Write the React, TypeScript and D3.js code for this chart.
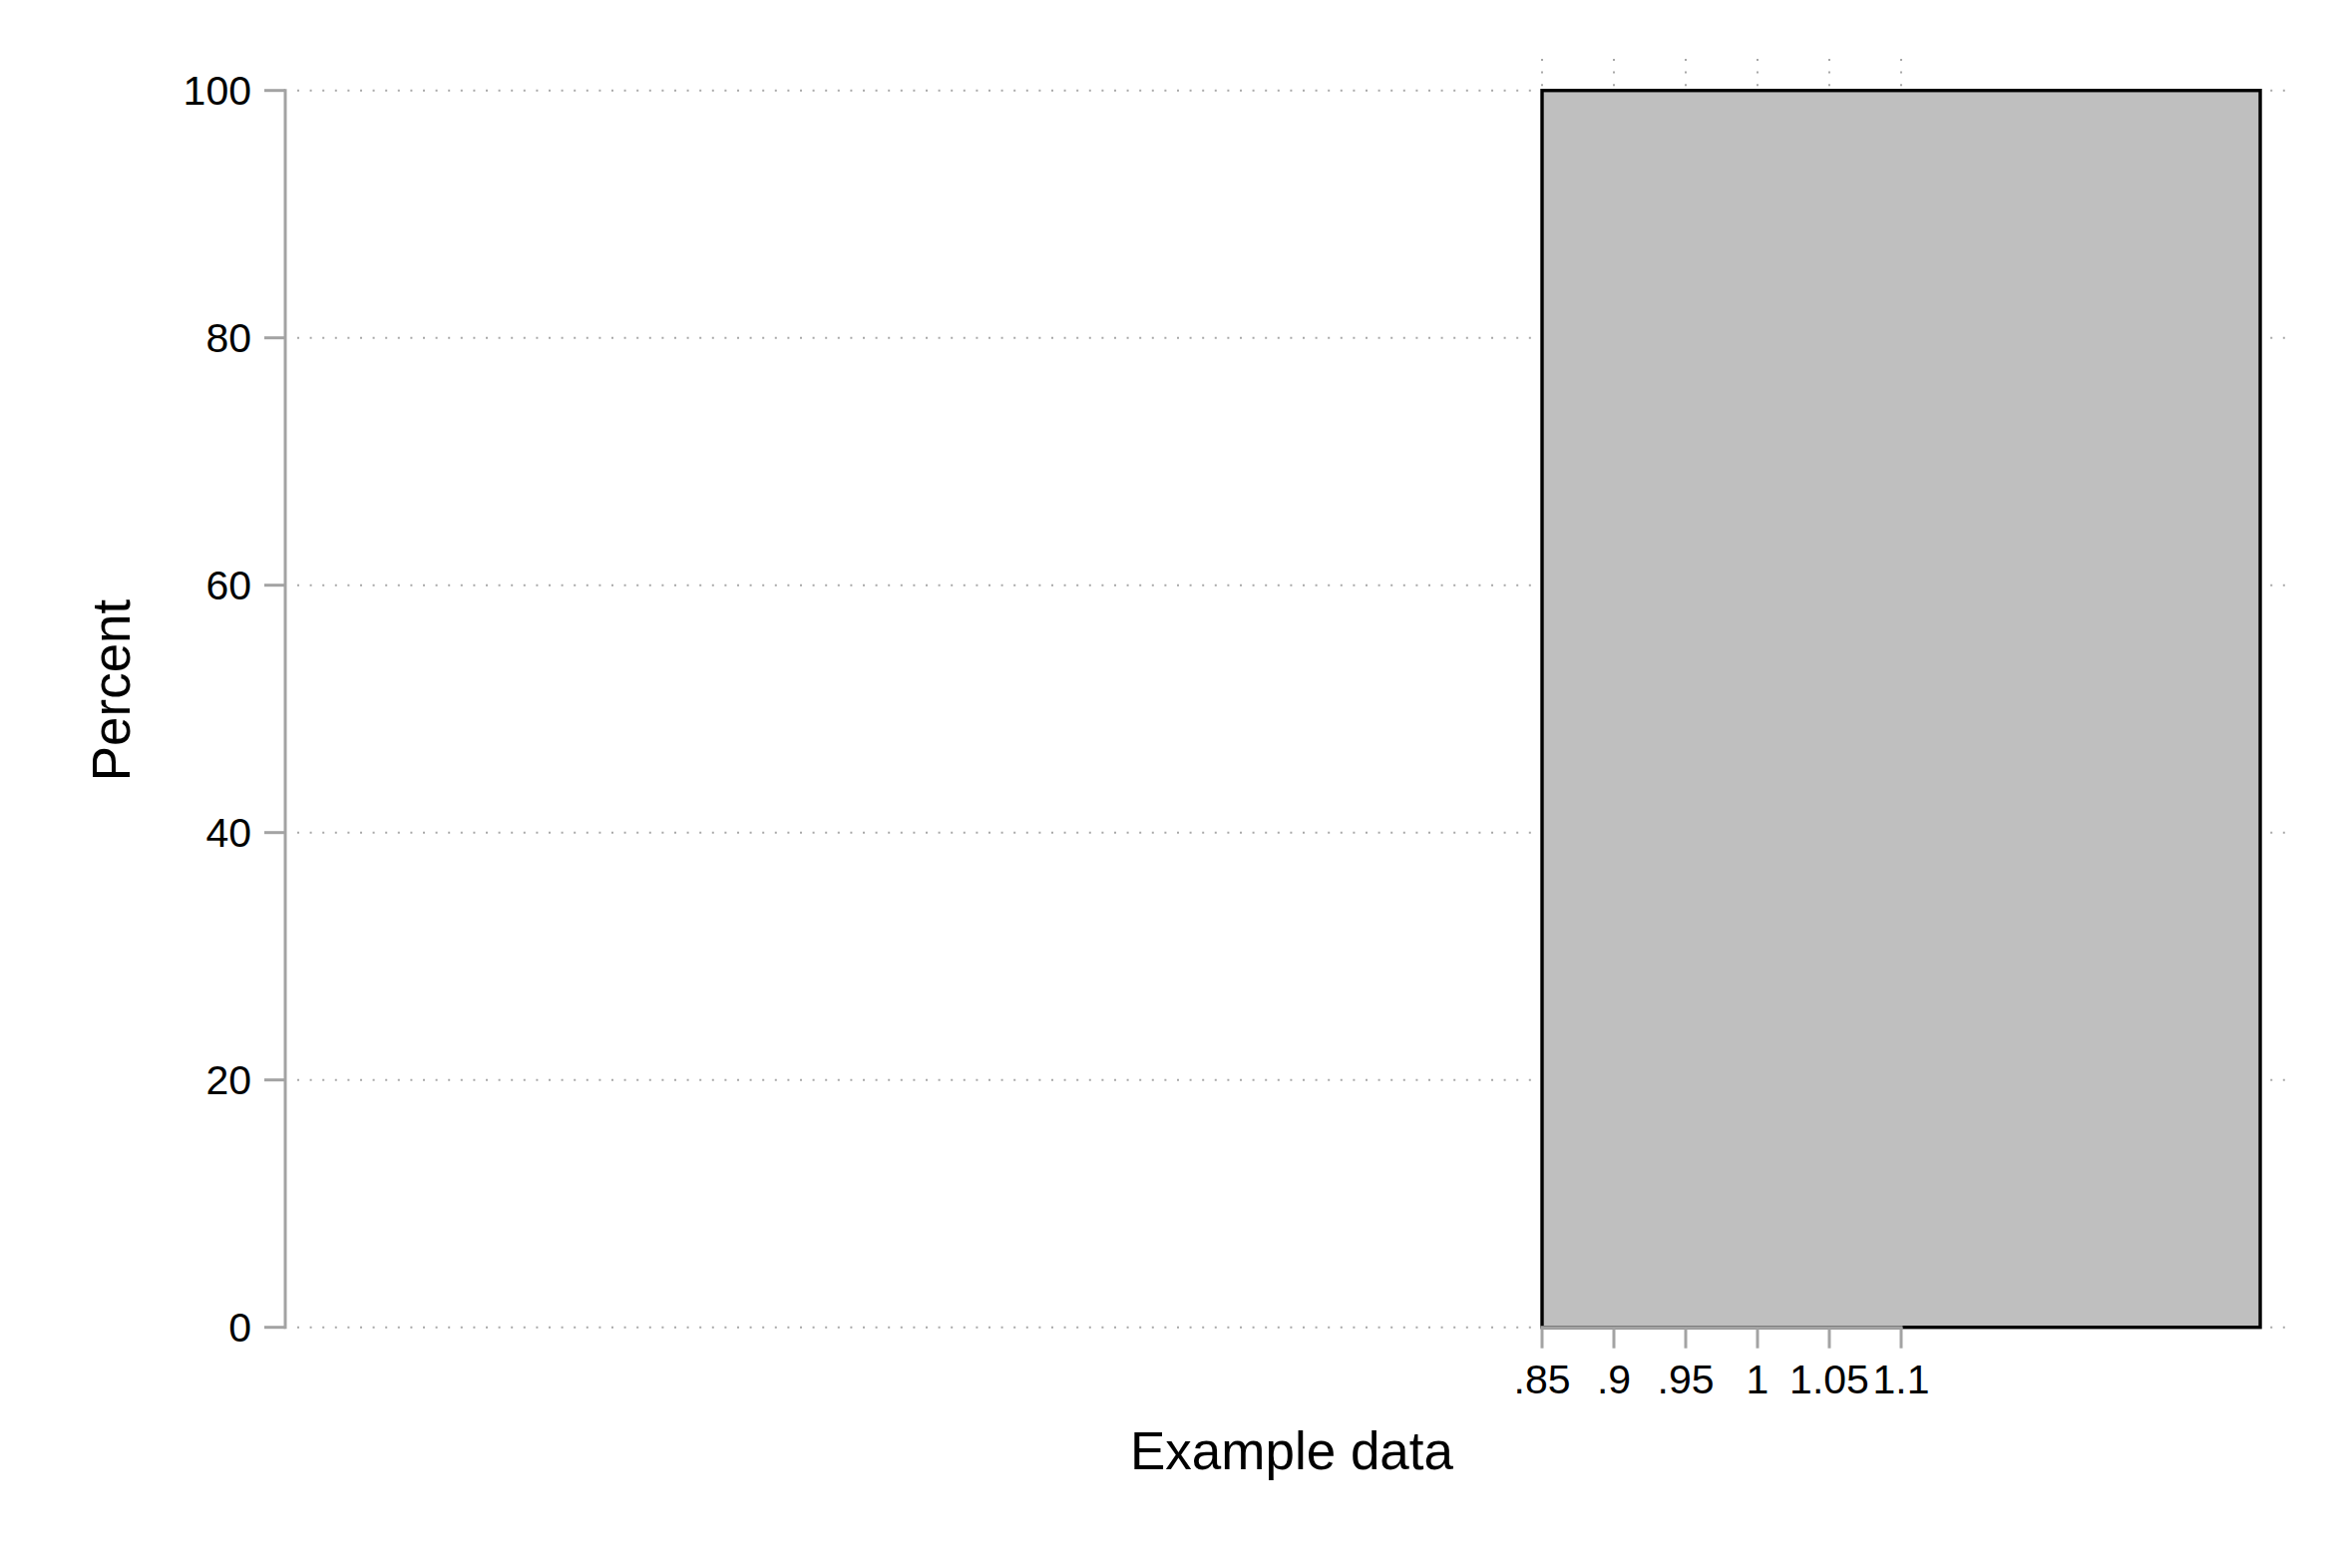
import * as d3 from "d3";

// histogram bins (one bin holding every observation)
const binStarts = [0.85];
const binEnds = [1.35];
const binPercents = [100];

const xTickValues = [0.85, 0.9, 0.95, 1, 1.05, 1.1];
const yTickValues = [0, 20, 40, 60, 80, 100];

const xTitle = "Example data";
const yTitle = "Percent";

const W = 2358;
const H = 1572;
const FONT = "'Liberation Sans', Arial, Helvetica, sans-serif";

const fmt = (v: number) => String(v).replace(/^0\./, ".");

export default function App() {
  const x = d3.scaleLinear().domain([0.85, 1.35]).range([1546, 2266]);
  const y = d3.scaleLinear().domain([0, 100]).range([1330.7, 90.7]);

  const plotLeft = 286;
  const plotRight = 2300;
  const plotTop = 59;

  const axisColor = "#a3a3a3";
  const gridColor = "#a8a8a8";

  const bins = binStarts.map((s, i) => ({ x0: s, x1: binEnds[i], v: binPercents[i] }));

  return (
    <svg
      width={W}
      height={H}
      style={{ position: "absolute", left: 0, top: 0, background: "#fff" }}
      fontFamily={FONT}
    >
      {/* horizontal grid */}
      {yTickValues.map((t) => (
        <line
          key={"gy" + t}
          x1={plotLeft + 12}
          x2={plotRight}
          y1={y(t)}
          y2={y(t)}
          stroke={gridColor}
          strokeWidth={2}
          strokeDasharray="2 10.6"
        />
      ))}
      {/* vertical grid, drawn top-down so the dots line up with the top edge */}
      {xTickValues.map((t) => (
        <line
          key={"gx" + t}
          x1={x(t)}
          x2={x(t)}
          y1={plotTop}
          y2={y(0)}
          stroke={gridColor}
          strokeWidth={2}
          strokeDasharray="2 10.6"
        />
      ))}

      {/* bars */}
      {bins.map((b, i) => (
        <rect
          key={i}
          x={x(b.x0)}
          y={y(b.v)}
          width={x(b.x1) - x(b.x0)}
          height={y(0) - y(b.v)}
          fill="#bfbfbf"
          stroke="#000"
          strokeWidth={3.4}
        />
      ))}

      {/* y axis */}
      <line x1={plotLeft} x2={plotLeft} y1={y(0) + 1.5} y2={y(100) - 1.5} stroke={axisColor} strokeWidth={3} />
      {yTickValues.map((t) => (
        <g key={"ty" + t}>
          <line x1={plotLeft - 21} x2={plotLeft} y1={y(t)} y2={y(t)} stroke={axisColor} strokeWidth={3} />
          <text
            x={plotLeft - 34}
            y={y(t)}
            dy="0.36em"
            textAnchor="end"
            fontSize={41}
            fill="#000"
          >
            {fmt(t)}
          </text>
        </g>
      ))}

      {/* x axis */}
      <line
        x1={x(xTickValues[0]) - 1.5}
        x2={x(xTickValues[xTickValues.length - 1]) + 1.5}
        y1={y(0)}
        y2={y(0)}
        stroke={axisColor}
        strokeWidth={3}
      />
      {xTickValues.map((t) => (
        <g key={"tx" + t}>
          <line x1={x(t)} x2={x(t)} y1={y(0)} y2={y(0) + 21} stroke={axisColor} strokeWidth={3} />
          <text x={x(t)} y={1396.7} textAnchor="middle" fontSize={41} fill="#000">
            {fmt(t)}
          </text>
        </g>
      ))}

      {/* titles */}
      <text x={1295} y={1473} textAnchor="middle" fontSize={53} fill="#000">
        {xTitle}
      </text>
      <text
        transform={`translate(130,692) rotate(-90)`}
        textAnchor="middle"
        fontSize={53}
        fill="#000"
      >
        {yTitle}
      </text>
    </svg>
  );
}
